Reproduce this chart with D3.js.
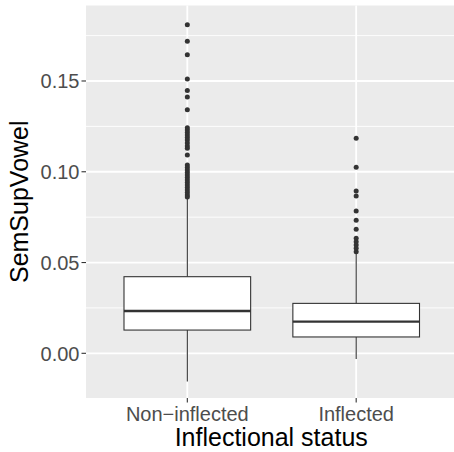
<!DOCTYPE html>
<html>
<head>
<meta charset="utf-8">
<script src="https://cdn.jsdelivr.net/npm/d3@7"></script>
<style>
  html, body { margin: 0; padding: 0; background: #ffffff; }
  svg { display: block; }
  text { font-family: "Liberation Sans", Arial, Helvetica, sans-serif; }
</style>
</head>
<body>
<script>
// ---- data ----
const categories = ["Non\u2212inflected", "Inflected"];
const lowerWhisker = [-0.0156, -0.0031];
const q1 = [0.0128, 0.0090];
const median = [0.0233, 0.0174];
const q3 = [0.0422, 0.0275];
const upperWhisker = [0.0850, 0.0547];
const outliersNonInflected = [
  0.1810, 0.1719, 0.1645, 0.1511, 0.1447, 0.1412, 0.1342,
  0.1243, 0.1230, 0.1216, 0.1203, 0.1189, 0.1175, 0.1158, 0.1142, 0.1129,
  0.1092,
  0.1037, 0.1024, 0.1010, 0.0996, 0.0982, 0.0968, 0.0955, 0.0941,
  0.0927, 0.0913, 0.0900, 0.0886, 0.0872, 0.0861
];
const outliersInflected = [
  0.1184, 0.1025, 0.0894, 0.0867, 0.0784, 0.0733, 0.0683,
  0.0634, 0.0615, 0.0597, 0.0578, 0.0560
];
const yTicks = [0.00, 0.05, 0.10, 0.15];
const yTickLabels = ["0.00", "0.05", "0.10", "0.15"];
const yMinor = [0.025, 0.075, 0.125, 0.175];
const xTitle = "Inflectional status";
const yTitle = "SemSupVowel";

// ---- layout ----
const W = 454, H = 452;
const panel = { left: 86, top: 5.5, right: 457.5, bottom: 398 };

const svg = d3.select("body").append("svg").attr("width", W).attr("height", H);

const x = d3.scalePoint().domain(categories).range([panel.left, panel.right]).padding(0.6);
const step = x.step();
const y = d3.scaleLinear().domain([-0.02462, 0.19158]).range([panel.bottom, panel.top]);

// panel background
svg.append("rect")
  .attr("x", panel.left).attr("y", panel.top)
  .attr("width", panel.right - panel.left).attr("height", panel.bottom - panel.top)
  .attr("fill", "#EBEBEB");

const grid = svg.append("g");
grid.selectAll("line.minor").data(yMinor).join("line")
  .attr("x1", panel.left).attr("x2", panel.right)
  .attr("y1", d => y(d)).attr("y2", d => y(d))
  .attr("stroke", "#ffffff").attr("stroke-width", 0.9);
grid.selectAll("line.major").data(yTicks).join("line")
  .attr("x1", panel.left).attr("x2", panel.right)
  .attr("y1", d => y(d)).attr("y2", d => y(d))
  .attr("stroke", "#ffffff").attr("stroke-width", 1.8);
grid.selectAll("line.vmajor").data(categories).join("line")
  .attr("x1", d => x(d)).attr("x2", d => x(d))
  .attr("y1", panel.top).attr("y2", panel.bottom)
  .attr("stroke", "#ffffff").attr("stroke-width", 1.8);

// boxes
const boxes = categories.map((c, i) => ({
  c, lw: lowerWhisker[i], q1: q1[i], med: median[i], q3: q3[i], uw: upperWhisker[i],
  out: i === 0 ? outliersNonInflected : outliersInflected
}));
const bw = step * 0.75;
const col = "#333333";
const g = svg.append("g");
boxes.forEach(b => {
  const cx = x(b.c);
  g.append("line").attr("x1", cx).attr("x2", cx).attr("y1", y(b.q3)).attr("y2", y(b.uw))
    .attr("stroke", col).attr("stroke-width", 1.1);
  g.append("line").attr("x1", cx).attr("x2", cx).attr("y1", y(b.q1)).attr("y2", y(b.lw))
    .attr("stroke", col).attr("stroke-width", 1.1);
  g.append("rect").attr("x", cx - bw / 2).attr("y", y(b.q3))
    .attr("width", bw).attr("height", y(b.q1) - y(b.q3))
    .attr("fill", "#ffffff").attr("stroke", col).attr("stroke-width", 1.1);
  g.append("line").attr("x1", cx - bw / 2).attr("x2", cx + bw / 2)
    .attr("y1", y(b.med)).attr("y2", y(b.med))
    .attr("stroke", col).attr("stroke-width", 2.3);
  g.selectAll(null).data(b.out).join("circle")
    .attr("cx", cx).attr("cy", d => y(d)).attr("r", 2.5)
    .attr("fill", col);
});

// axes ticks
const axG = svg.append("g");
axG.selectAll("line.yt").data(yTicks).join("line")
  .attr("x1", panel.left - 4.5).attr("x2", panel.left)
  .attr("y1", d => y(d)).attr("y2", d => y(d))
  .attr("stroke", col).attr("stroke-width", 1.1);
axG.selectAll("text.yt").data(yTicks).join("text")
  .attr("x", panel.left - 6.5).attr("y", d => y(d) + 7.2)
  .attr("text-anchor", "end").attr("font-size", 20).attr("fill", "#4D4D4D")
  .text((d, i) => yTickLabels[i]);
axG.selectAll("line.xt").data(categories).join("line")
  .attr("x1", d => x(d)).attr("x2", d => x(d))
  .attr("y1", panel.bottom).attr("y2", panel.bottom + 4.5)
  .attr("stroke", col).attr("stroke-width", 1.1);
axG.selectAll("text.xt").data(categories).join("text")
  .attr("x", d => x(d)).attr("y", 420.5)
  .attr("text-anchor", "middle").attr("font-size", 20).attr("fill", "#4D4D4D")
  .text(d => d);

// titles
svg.append("text")
  .attr("x", (panel.left + panel.right) / 2 - 0.5).attr("y", 446)
  .attr("text-anchor", "middle").attr("font-size", 25).attr("fill", "#000000")
  .text(xTitle);
svg.append("text")
  .attr("transform", `translate(28, ${(panel.top + panel.bottom) / 2}) rotate(-90)`)
  .attr("text-anchor", "middle").attr("font-size", 25).attr("fill", "#000000")
  .text(yTitle);
</script>
</body>
</html>
